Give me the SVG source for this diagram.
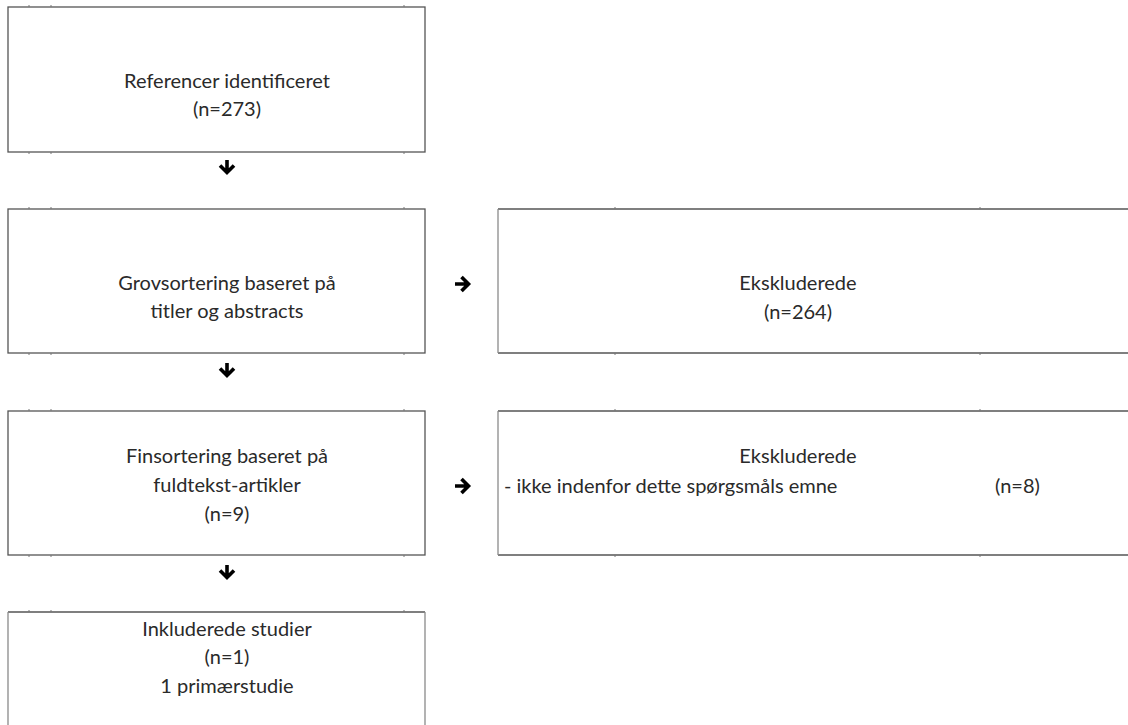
<svg xmlns="http://www.w3.org/2000/svg" width="1128" height="725" viewBox="0 0 1128 725">
<style>
.b{fill:#fff;stroke:#555;stroke-width:1.3}
.v{stroke:#8a8a8a;stroke-width:1.3}
.h{stroke:#555;stroke-width:1.3}
.tk{stroke:#777;stroke-width:1}
.t{font-family:Lato,"Open Sans","Liberation Sans",sans-serif;font-size:20px;fill:#2a2a2a}
.c{text-anchor:middle}
.ar{fill:none;stroke:#000;stroke-width:3.6;stroke-linecap:butt;stroke-linejoin:miter}
</style>
<rect width="1128" height="725" fill="#fff"/>
<g id="n1">
<rect class="b" x="8" y="7" width="417" height="145"/>
<path class="tk" d="M29 5v2M51 5v2M404 5v2M29 152v2M51 152v2M404 152v2"/>
<text class="t c" x="227" y="88">Referencer identificeret</text>
<text class="t c" x="227" y="116">(n=273)</text>
</g>
<g id="n2">
<rect class="b" x="8" y="209" width="417" height="144"/>
<path class="tk" d="M29 207v2M51 207v2M404 207v2M29 353v2M51 353v2M404 353v2"/>
<text class="t c" x="227" y="290">Grovsortering baseret på</text>
<text class="t c" x="227" y="318">titler og abstracts</text>
</g>
<g id="n3">
<path class="h" d="M498 209H1128M498 353H1128"/>
<path class="v" d="M498 209V353"/>
<path class="tk" d="M615 207v2M980 207v2M615 353v2M980 353v2"/>
<text class="t c" x="798" y="290">Ekskluderede</text>
<text class="t c" x="798" y="319">(n=264)</text>
</g>
<g id="n4">
<rect class="b" x="8" y="411" width="417" height="144"/>
<path class="tk" d="M29 409v2M51 409v2M404 409v2M29 555v2M51 555v2M404 555v2"/>
<text class="t c" x="227" y="463">Finsortering baseret på</text>
<text class="t c" x="227" y="492">fuldtekst-artikler</text>
<text class="t c" x="227" y="521">(n=9)</text>
</g>
<g id="n5">
<path class="h" d="M498 411H1128M498 555H1128"/>
<path class="v" d="M498 411V555"/>
<path class="tk" d="M615 409v2M980 409v2M615 555v2M980 555v2"/>
<text class="t c" x="798" y="463">Ekskluderede</text>
<text class="t" x="504" y="493">- ikke indenfor dette spørgsmåls emne</text>
<text class="t" x="995" y="493">(n=8)</text>
</g>
<g id="n6">
<path class="h" d="M8 612H425"/>
<path class="v" d="M8 612V725M425 612V725"/>
<path class="tk" d="M29 610v2M51 610v2M404 610v2"/>
<text class="t c" x="227" y="636">Inkluderede studier</text>
<text class="t c" x="227" y="664">(n=1)</text>
<text class="t c" x="227" y="693">1 primærstudie</text>
</g>
<g id="connectors">
<path class="ar" d="M227 160V172M220 165.5L227 172.5L234 165.5"/>
<path class="ar" d="M227 363V375M220 368.5L227 375.5L234 368.5"/>
<path class="ar" d="M227 565V577M220 570.5L227 577.5L234 570.5"/>
<path class="ar" d="M455 284H468M461.5 277L468.5 284L461.5 291"/>
<path class="ar" d="M455 486H468M461.5 479L468.5 486L461.5 493"/>
</g>
</svg>
